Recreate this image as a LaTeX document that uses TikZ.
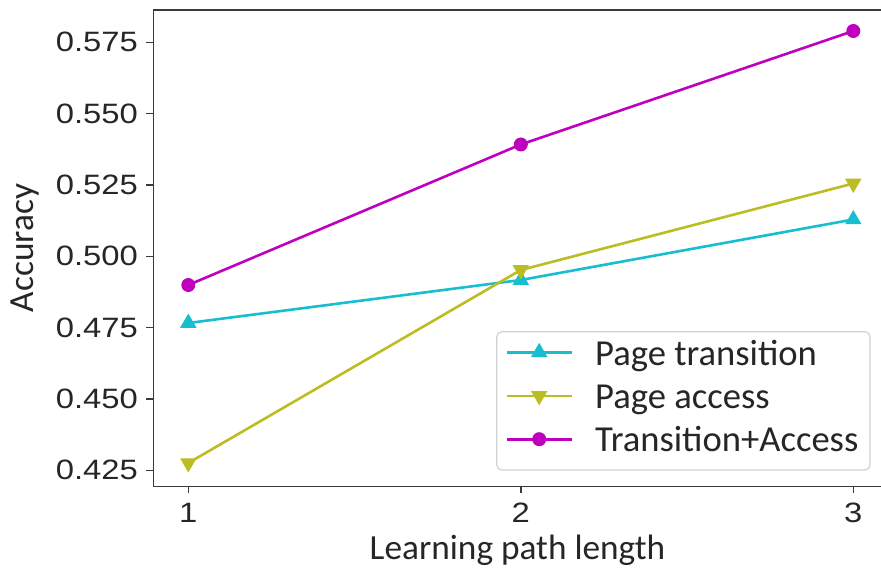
\documentclass[tikz,border=0pt]{standalone}
\usepackage{fontspec}
\setmainfont{Carlito}
\newfontfamily\tickfont[FakeStretch=1.17]{Liberation Sans}
\usetikzlibrary{shapes.geometric}

\definecolor{ptcol}{HTML}{17BECF}
\definecolor{pacol}{HTML}{BCBD22}
\definecolor{tacol}{HTML}{BF00BF}
\definecolor{spinecol}{HTML}{3A3A3A}

\tikzset{
  spine/.style={draw=spinecol, line width=1.6pt, line cap=rect},
  tickmark/.style={draw=spinecol, line width=1.4pt},
  ticklab/.style={font=\tickfont\fontsize{28}{28}\selectfont, text=black!85, inner sep=0pt},
  axlab/.style={font=\fontsize{35.3}{35.3}\selectfont, text=black!85, inner sep=0pt},
  series/.style={line width=2.6pt, line join=round},
  mkcirc/.style={circle, fill=#1, inner sep=0pt, minimum size=14pt},
  mkup/.style={regular polygon, regular polygon sides=3, fill=#1, inner sep=0pt, minimum size=19pt},
  mkdown/.style={regular polygon, regular polygon sides=3, shape border rotate=180, fill=#1, inner sep=0pt, minimum size=19pt},
  legbox/.style={draw=black!18, line width=1.2pt, rounded corners=5pt, fill=white, fill opacity=0.8, inner sep=0pt},
  legtext/.style={font=\fontsize{36.6}{36.6}\selectfont, text=black!85, inner sep=0pt, anchor=base west},
}

\begin{document}
\begin{tikzpicture}[x=1pt, y=-1pt]
\useasboundingbox (0,0) rectangle (881,572);

% axes frame (right side runs past the edge)
\coordinate (axTL) at (153.3,10);
\coordinate (axBL) at (153.3,486.3);
\coordinate (axTR) at (881,10);
\coordinate (axBR) at (881,486.3);
\draw[spine] (axTR) -- (axTL) -- (axBL) -- (axBR);

% y ticks
\foreach \v/\y [count=\i] in {0.425/470.3, 0.450/399.0, 0.475/327.7, 0.500/256.3, 0.525/185.0, 0.550/113.7, 0.575/42.3} {
  \coordinate (yt\i) at (153.3,\y);
  \draw[tickmark] (yt\i) -- ++(-7,0);
  \node[ticklab, anchor=east] (ylab\i) at (138,\y) {\v};
}

% x ticks
\foreach \n/\x in {1/188.3, 2/520.8, 3/853.3} {
  \coordinate (xt\n) at (\x,486.3);
  \draw[tickmark] (xt\n) -- ++(0,7);
  \node[ticklab] (xlab\n) at (\x,513) {\n};
}

% axis labels
\node[axlab, anchor=base] (xaxislabel) at (517.5,559) {Learning path length};
\node[axlab, rotate=90, anchor=base] (yaxislabel) at (34,248) {Accuracy};

% data points
\coordinate (t1) at (188.3,323.0);
\coordinate (t2) at (520.8,280.0);
\coordinate (t3) at (853.3,219.5);
\coordinate (a1) at (188.3,463.0);
\coordinate (a2) at (520.8,270.0);
\coordinate (a3) at (853.3,183.5);
\coordinate (c1) at (188.3,285.0);
\coordinate (c2) at (520.8,144.5);
\coordinate (c3) at (853.3,31.0);

% Page transition
\draw[series, ptcol] (t1) -- (t2) -- (t3);
\foreach \p in {t1,t2,t3} \node[mkup=ptcol] (m\p) at (\p) {};
% Page access
\draw[series, pacol] (a1) -- (a2) -- (a3);
\foreach \p in {a1,a2,a3} \node[mkdown=pacol] (m\p) at (\p) {};
% Transition+Access
\draw[series, tacol] (c1) -- (c2) -- (c3);
\foreach \p in {c1,c2,c3} \node[mkcirc=tacol] (m\p) at (\p) {};

% legend
\node[legbox, minimum width=373.3pt, minimum height=138.3pt] (legend) at (683.4,400.9) {};
\coordinate (lgTa) at (506.7,352.3);
\coordinate (lgTb) at (571.7,352.3);
\coordinate (lgAa) at (506.7,395.8);
\coordinate (lgAb) at (571.7,395.8);
\coordinate (lgCa) at (506.7,439.2);
\coordinate (lgCb) at (571.7,439.2);
\draw[series, ptcol] (lgTa) -- (lgTb);
\node[mkup=ptcol] (lgTm) at (539.2,352.3) {};
\draw[series, pacol] (lgAa) -- (lgAb);
\node[mkdown=pacol] (lgAm) at (539.2,395.8) {};
\draw[series, tacol] (lgCa) -- (lgCb);
\node[mkcirc=tacol] (lgCm) at (539.2,439.2) {};
\node[legtext] (lgTt) at (595,365) {Page transition};
\node[legtext] (lgAt) at (595,408.3) {Page access};
\node[legtext] (lgCt) at (595,451.7) {Transition+Access};
\end{tikzpicture}
\end{document}
